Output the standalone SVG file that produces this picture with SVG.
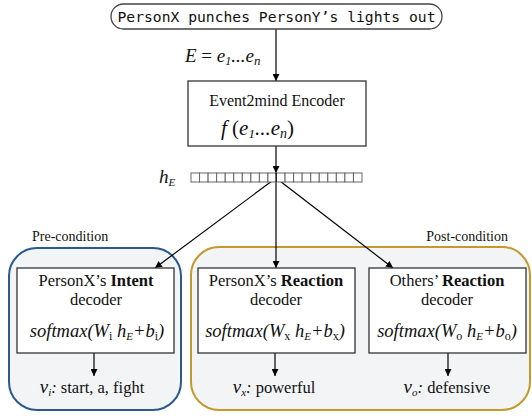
<svg xmlns="http://www.w3.org/2000/svg" width="532" height="416" viewBox="0 0 532 416">
<defs>
<marker id="ah" viewBox="0 0 10 10" refX="10" refY="5" markerWidth="7" markerHeight="7" markerUnits="userSpaceOnUse" orient="auto">
<path d="M0,0 L10,5 L0,10 z" fill="#000"/>
</marker>
<style>
.serif{font-family:"Liberation Serif","Times New Roman",serif;fill:#111}
.it{font-style:italic}
.box{fill:#fff;stroke:#333;stroke-width:1.3}
.ln{stroke:#000;stroke-width:1.2;fill:none}
.cell{fill:#fff;stroke:#666;stroke-width:1}
</style>
</defs>
<g id="groups">
<rect x="9" y="248" width="172" height="162" rx="28" fill="#f3f4f6" stroke="#2a5a8c" stroke-width="2"/>
<rect x="191" y="247" width="339" height="163" rx="28" fill="#f3f4f6" stroke="#c49a2c" stroke-width="2"/>
<text class="serif" x="32" y="241" font-size="14">Pre-condition</text>
<text class="serif" x="508" y="241" font-size="14" text-anchor="end">Post-condition</text>
</g>
<g id="connectors">
<line class="ln" x1="276" y1="29" x2="276" y2="81" marker-end="url(#ah)"/>
<line class="ln" x1="276" y1="146" x2="276" y2="173" marker-end="url(#ah)"/>
<line class="ln" x1="276" y1="178" x2="155" y2="268" marker-end="url(#ah)"/>
<line class="ln" x1="276" y1="178" x2="276" y2="268" marker-end="url(#ah)"/>
<line class="ln" x1="276" y1="178" x2="393" y2="268" marker-end="url(#ah)"/>
<line class="ln" x1="94" y1="353" x2="94" y2="376" marker-end="url(#ah)"/>
<line class="ln" x1="275" y1="353" x2="275" y2="376" marker-end="url(#ah)"/>
<line class="ln" x1="448" y1="353" x2="448" y2="376" marker-end="url(#ah)"/>
<text class="serif it" x="185" y="62" font-size="19">E <tspan font-style="normal">=</tspan> e<tspan font-size="12" dy="3">1</tspan><tspan dy="-3">...e</tspan><tspan font-size="13" dy="3">n</tspan></text>
</g>
<g id="input">
<rect x="111" y="4" width="331" height="25" rx="12.5" fill="#fff" stroke="#444" stroke-width="1.3"/>
<text x="276.5" y="22" font-family="'DejaVu Sans Mono','Liberation Mono',monospace" font-size="14.5" text-anchor="middle" textLength="318" lengthAdjust="spacingAndGlyphs" fill="#111">PersonX punches PersonY’s lights out</text>
</g>
<g id="encoder">
<rect class="box" x="188" y="81" width="178" height="65"/>
<text class="serif" x="277" y="106" font-size="16" text-anchor="middle">Event2mind Encoder</text>
<text class="serif it" x="221" y="135" font-size="21">f <tspan font-style="normal">(</tspan>e<tspan font-size="13" dy="3">1</tspan><tspan dy="-3">...e</tspan><tspan font-size="14" dy="3">n</tspan><tspan dy="-3" font-style="normal">)</tspan></text>
</g>
<g id="hE">
<text class="serif it" x="159" y="183" font-size="19">h<tspan font-size="11" dy="3">E</tspan></text>
<g id="bar">
<rect class="cell" x="191" y="173" width="8.55" height="9"/>
<rect class="cell" x="199.55" y="173" width="8.55" height="9"/>
<rect class="cell" x="208.1" y="173" width="8.55" height="9"/>
<rect class="cell" x="216.65" y="173" width="8.55" height="9"/>
<rect class="cell" x="225.2" y="173" width="8.55" height="9"/>
<rect class="cell" x="233.75" y="173" width="8.55" height="9"/>
<rect class="cell" x="242.3" y="173" width="8.55" height="9"/>
<rect class="cell" x="250.85" y="173" width="8.55" height="9"/>
<rect class="cell" x="259.4" y="173" width="8.55" height="9"/>
<rect class="cell" x="267.95" y="173" width="8.55" height="9"/>
<rect class="cell" x="276.5" y="173" width="8.55" height="9"/>
<rect class="cell" x="285.05" y="173" width="8.55" height="9"/>
<rect class="cell" x="293.6" y="173" width="8.55" height="9"/>
<rect class="cell" x="302.15" y="173" width="8.55" height="9"/>
<rect class="cell" x="310.7" y="173" width="8.55" height="9"/>
<rect class="cell" x="319.25" y="173" width="8.55" height="9"/>
<rect class="cell" x="327.8" y="173" width="8.55" height="9"/>
<rect class="cell" x="336.35" y="173" width="8.55" height="9"/>
<rect class="cell" x="344.9" y="173" width="8.55" height="9"/>
<rect class="cell" x="353.45" y="173" width="8.55" height="9"/>
</g>
<line x1="276" y1="173" x2="276" y2="182" stroke="#000" stroke-width="1.2"/>
</g>
<g id="intent">
<rect class="box" x="17" y="268" width="157" height="85"/>
<text class="serif" x="96" y="286" font-size="16.5" text-anchor="middle">PersonX’s <tspan font-weight="bold">Intent</tspan></text>
<text class="serif" x="96" y="305" font-size="16.5" text-anchor="middle">decoder</text>
<text class="serif it" x="97" y="337" font-size="18.5" text-anchor="middle">softmax(W<tspan font-style="normal" font-size="12" dy="3">i</tspan><tspan dy="-3"> h</tspan><tspan font-size="11" dy="3">E</tspan><tspan dy="-3">+b</tspan><tspan font-style="normal" font-size="12" dy="3">i</tspan><tspan dy="-3">)</tspan></text>
<text class="serif" x="92" y="393" font-size="16.5" text-anchor="middle"><tspan font-style="italic" font-size="19">v</tspan><tspan font-size="11" dy="3" font-style="italic">i</tspan><tspan dy="-3" font-style="italic">:</tspan> start, a, fight</text>
</g>
<g id="reaction">
<rect class="box" x="198" y="268" width="157" height="85"/>
<text class="serif" x="276" y="286" font-size="16.5" text-anchor="middle">PersonX’s <tspan font-weight="bold">Reaction</tspan></text>
<text class="serif" x="276" y="305" font-size="16.5" text-anchor="middle">decoder</text>
<text class="serif it" x="275" y="337" font-size="18.5" text-anchor="middle">softmax(W<tspan font-style="normal" font-size="12" dy="3">x</tspan><tspan dy="-3"> h</tspan><tspan font-size="11" dy="3">E</tspan><tspan dy="-3">+b</tspan><tspan font-style="normal" font-size="12" dy="3">x</tspan><tspan dy="-3">)</tspan></text>
<text class="serif" x="274" y="393" font-size="16.5" text-anchor="middle"><tspan font-style="italic" font-size="19">v</tspan><tspan font-size="11" dy="3" font-style="italic">x</tspan><tspan dy="-3" font-style="italic">:</tspan> powerful</text>
</g>
<g id="others">
<rect class="box" x="369" y="268" width="157" height="85"/>
<text class="serif" x="447" y="286" font-size="16.5" text-anchor="middle">Others’ <tspan font-weight="bold">Reaction</tspan></text>
<text class="serif" x="447" y="305" font-size="16.5" text-anchor="middle">decoder</text>
<text class="serif it" x="447" y="337" font-size="18.5" text-anchor="middle">softmax(W<tspan font-style="normal" font-size="12" dy="3">o</tspan><tspan dy="-3"> h</tspan><tspan font-size="11" dy="3">E</tspan><tspan dy="-3">+b</tspan><tspan font-style="normal" font-size="12" dy="3">o</tspan><tspan dy="-3">)</tspan></text>
<text class="serif" x="447" y="393" font-size="16.5" text-anchor="middle"><tspan font-style="italic" font-size="19">v</tspan><tspan font-size="11" dy="3" font-style="italic">o</tspan><tspan dy="-3" font-style="italic">:</tspan> defensive</text>
</g>
</svg>
